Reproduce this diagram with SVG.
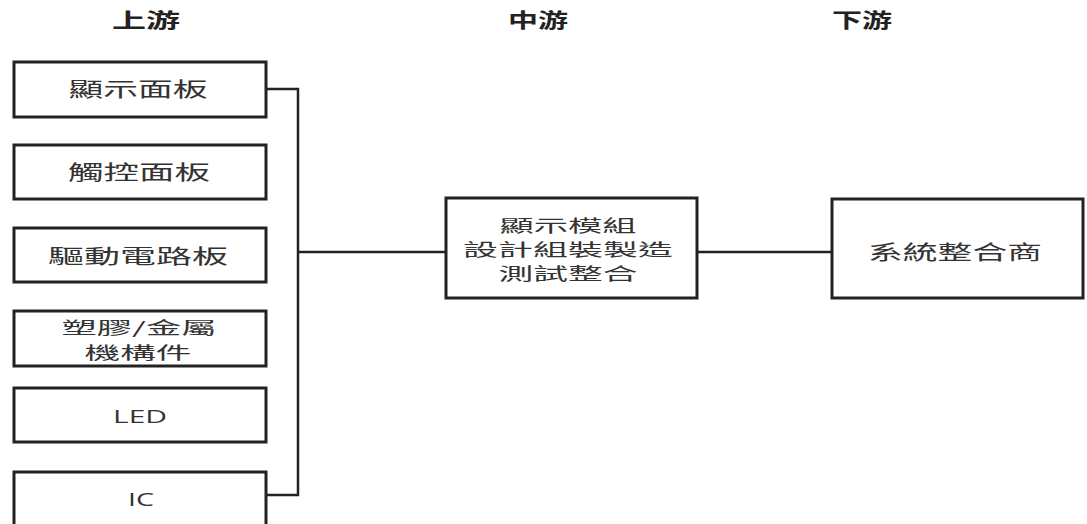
<svg xmlns="http://www.w3.org/2000/svg" width="1087" height="524" viewBox="0 0 1087 524">
<style>
.box{fill:#fff;stroke:#222;stroke-width:3}
.t{font-family:"Noto Sans CJK TC","Noto Sans CJK SC",sans-serif;font-size:20px;fill:#333;text-anchor:middle;dominant-baseline:central}
.m{font-size:16.5px}
.h{font-family:"Noto Sans CJK TC","Noto Sans CJK SC",sans-serif;font-size:20px;font-weight:bold;fill:#222;text-anchor:middle;dominant-baseline:central}
.l{font-family:"Open Sans","Liberation Sans",sans-serif;font-size:18px;fill:#333;text-anchor:middle;dominant-baseline:central}
.c{fill:none;stroke:#222;stroke-width:2.5}
</style>
<rect width="1087" height="524" fill="#fff"/>
<g id="headers">
<text class="h" x="146" y="19" textLength="68" lengthAdjust="spacingAndGlyphs">上游</text>
<text class="h" x="538" y="19" textLength="60" lengthAdjust="spacingAndGlyphs">中游</text>
<text class="h" x="862" y="19" textLength="60" lengthAdjust="spacingAndGlyphs">下游</text>
</g>
<g id="connectors">
<path class="c" d="M266,89 H298 V495 H266"/>
<path class="c" d="M298,252 H446"/>
<path class="c" d="M697,252 H832"/>
</g>
<g id="n1"><rect class="box" x="14" y="62" width="252" height="55"/><text class="t" x="138" y="88" textLength="139" lengthAdjust="spacingAndGlyphs">顯示面板</text></g>
<g id="n2"><rect class="box" x="14" y="145" width="252" height="54"/><text class="t" x="139" y="171" textLength="142" lengthAdjust="spacingAndGlyphs">觸控面板</text></g>
<g id="n3"><rect class="box" x="14" y="228" width="252" height="54"/><text class="t" x="138" y="255" textLength="180" lengthAdjust="spacingAndGlyphs">驅動電路板</text></g>
<g id="n4"><rect class="box" x="14" y="311" width="252" height="55"/><text class="t m" x="139" y="327" textLength="155" lengthAdjust="spacingAndGlyphs">塑膠/金屬</text><text class="t m" x="138" y="352" textLength="107" lengthAdjust="spacingAndGlyphs">機構件</text></g>
<g id="n5"><rect class="box" x="14" y="388" width="252" height="54"/><text class="l" x="140" y="416" textLength="54" lengthAdjust="spacingAndGlyphs">LED</text></g>
<g id="n6"><rect class="box" x="14" y="472" width="252" height="56"/><text class="l" x="141" y="499" textLength="26" lengthAdjust="spacingAndGlyphs">IC</text></g>
<g id="n7"><rect class="box" x="446" y="198" width="251" height="100"/>
<text class="t m" x="568" y="225" textLength="137" lengthAdjust="spacingAndGlyphs">顯示模組</text>
<text class="t m" x="568" y="249" textLength="210" lengthAdjust="spacingAndGlyphs">設計組裝製造</text>
<text class="t m" x="568" y="273" textLength="139" lengthAdjust="spacingAndGlyphs">測試整合</text></g>
<g id="n8"><rect class="box" x="832" y="199" width="251" height="99"/><text class="t" x="955" y="251" textLength="174" lengthAdjust="spacingAndGlyphs">系統整合商</text></g>
</svg>
